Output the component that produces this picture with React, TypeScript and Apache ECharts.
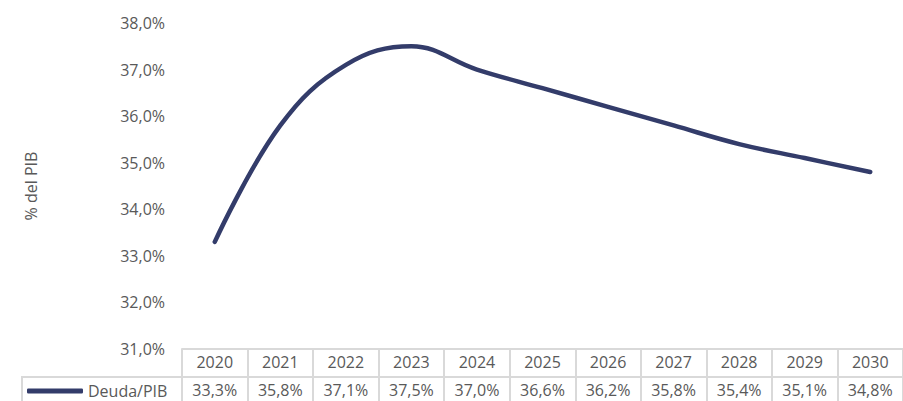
import React, { useEffect, useRef } from "react";
import * as echarts from "echarts";

const years = ["2020", "2021", "2022", "2023", "2024", "2025", "2026", "2027", "2028", "2029", "2030"];
const deudaPib = [33.3, 35.8, 37.1, 37.5, 37.0, 36.6, 36.2, 35.8, 35.4, 35.1, 34.8];
const seriesName = "Deuda/PIB";
const yMin = 31;
const yMax = 38;
const yStep = 1;

const fmt = (v: number) => v.toFixed(1).replace(".", ",") + "%";

export default function App() {
  const ref = useRef<HTMLDivElement>(null);
  useEffect(() => {
    document.body.style.margin = "0";
    const chart = echarts.init(ref.current!, null, { renderer: "svg" });
    const font = "Open Sans";
    const grey = "#595959";
    const border = "#d9d9d9";
    chart.setOption({
      animation: false,
      backgroundColor: "#ffffff",
      textStyle: { fontFamily: font },
      grid: { left: 182, right: -3, top: 23, bottom: 52, containLabel: false },
      legend: {
        data: [seriesName],
        left: 27,
        top: 383,
        padding: 0,
        icon: "roundRect",
        itemWidth: 56,
        itemHeight: 5,
        itemGap: 2,
        textStyle: { color: grey, fontSize: 16, lineHeight: 16, fontFamily: font },
      },
      xAxis: [
        {
          type: "category",
          data: years,
          boundaryGap: true,
          position: "bottom",
          axisLine: { show: true, lineStyle: { color: border, width: 2 } },
          axisTick: { show: true, length: 28, inside: false, lineStyle: { color: border, width: 2 } },
          axisLabel: { color: grey, fontSize: 16, lineHeight: 16, fontFamily: font, margin: 5 },
          splitLine: { show: false },
        },
        {
          type: "category",
          data: years,
          boundaryGap: true,
          position: "bottom",
          offset: 28,
          axisLine: { show: true, lineStyle: { color: border, width: 2 } },
          axisTick: { show: true, length: 30, inside: false, lineStyle: { color: border, width: 2 } },
          axisLabel: {
            color: grey,
            fontSize: 16,
            lineHeight: 16,
            fontFamily: font,
            margin: 5,
            formatter: (_v: string, i: number) => fmt(deudaPib[i]),
          },
          splitLine: { show: false },
        },
      ],
      yAxis: {
        type: "value",
        min: yMin,
        max: yMax,
        interval: yStep,
        name: "% del PIB",
        nameLocation: "middle",
        nameGap: 143,
        nameTextStyle: { color: grey, fontSize: 16, fontFamily: font },
        axisLine: { show: false },
        axisTick: { show: false },
        splitLine: { show: false },
        axisLabel: { color: grey, fontSize: 16, fontFamily: font, margin: 17, formatter: (v: number) => fmt(v) },
      },
      graphic: [
        { type: "line", shape: { x1: 22, y1: 377, x2: 183, y2: 377 }, style: { stroke: border, lineWidth: 2 } },
        { type: "line", shape: { x1: 22, y1: 376, x2: 22, y2: 402 }, style: { stroke: border, lineWidth: 2 } },
      ],
      series: [
        {
          name: seriesName,
          type: "line",
          data: deudaPib,
          smooth: 0.4,
          showSymbol: false,
          symbol: "none",
          lineStyle: { color: "#333c6a", width: 4.5, cap: "round" },
          itemStyle: { color: "#333c6a" },
        },
      ],
    });
    return () => chart.dispose();
  }, []);
  return <div ref={ref} style={{ width: 903, height: 401 }} />;
}
